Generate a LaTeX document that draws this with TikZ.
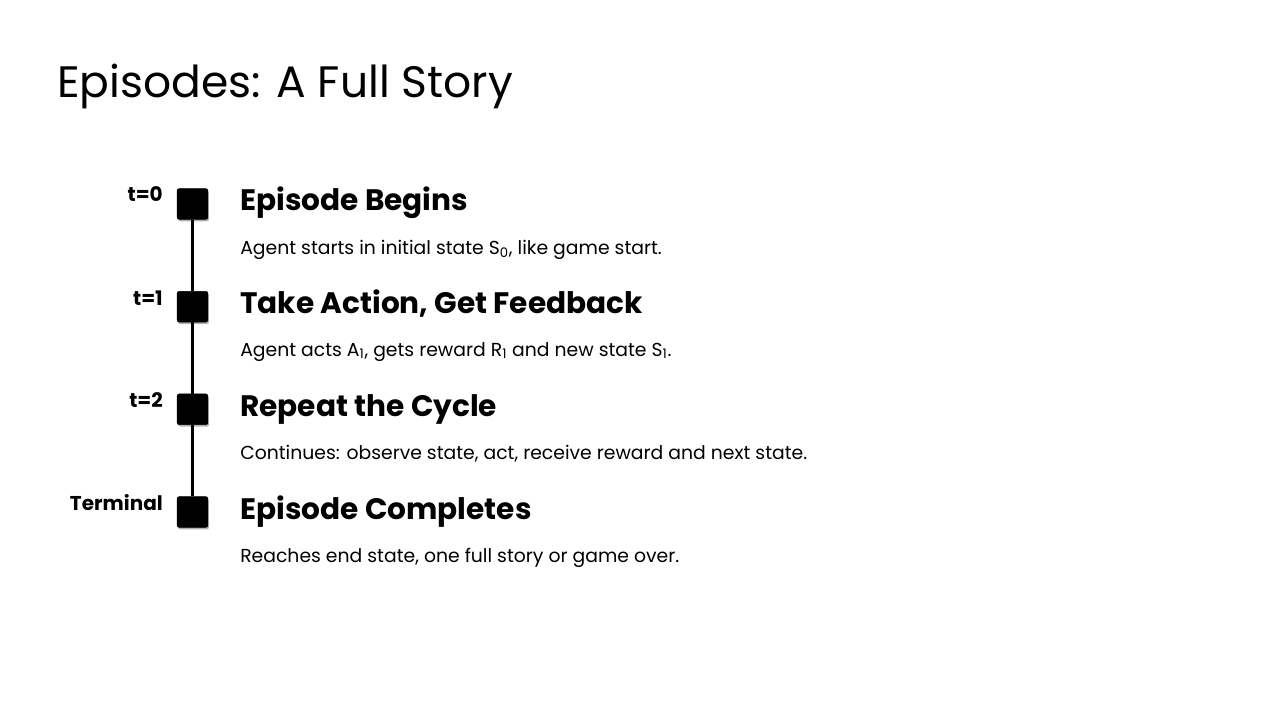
\documentclass[tikz,border=0pt]{standalone}
\usepackage{fontspec}
\setmainfont{Poppins}
\usetikzlibrary{shadows}

\begin{document}
\begin{tikzpicture}[x=0.75pt,y=-0.75pt,
  stepmark/.style={draw=black,fill=black,minimum size=23pt,inner sep=0pt,rounded corners=1.5pt,
    drop shadow={shadow xshift=0.8pt,shadow yshift=-1.5pt,opacity=0.3,fill=black}},
  steplabel/.style={anchor=base east,inner sep=0pt,font=\fontsize{15}{18}\selectfont\bfseries},
  stephead/.style={anchor=base west,inner sep=0pt,font=\fontsize{22.2}{26}\selectfont\bfseries},
  stepdesc/.style={anchor=base west,inner sep=0pt,font=\fontsize{14.1}{17}\selectfont},
  spine/.style={line width=2pt,black}]
  \useasboundingbox (0,0) rectangle (1280,720);
  \node[anchor=base west,inner sep=0pt,font=\fontsize{33}{40}\selectfont] (title) at (57,98) {Episodes: A Full Story};
  % timeline
  \node[stepmark] (m0) at (192.5,204) {};
  \node[stepmark] (m1) at (192.5,306.7) {};
  \node[stepmark] (m2) at (192.5,409.3) {};
  \node[stepmark] (m3) at (192.5,512) {};
  \draw[spine] (m0) -- (m1);
  \draw[spine] (m1) -- (m2);
  \draw[spine] (m2) -- (m3);
  \node[steplabel] (l0) at (163,202) {t=0};
  \node[steplabel] (l1) at (163,305) {t=1};
  \node[steplabel] (l2) at (163,407) {t=2};
  \node[steplabel] (l3) at (163,510) {Terminal};
  % steps
  \node[stephead] (h0) at (240,211) {Episode Begins};
  \node[stepdesc] (d0) at (240,254) {Agent starts in initial state S\textsubscript{0}, like game start.};
  \node[stephead] (h1) at (240,313) {Take Action, Get Feedback};
  \node[stepdesc] (d1) at (240,356) {Agent acts A\textsubscript{1}, gets reward R\textsubscript{1} and new state S\textsubscript{1}.};
  \node[stephead] (h2) at (240,416) {Repeat the Cycle};
  \node[stepdesc] (d2) at (240,459) {Continues: observe state, act, receive reward and next state.};
  \node[stephead] (h3) at (240,519) {Episode Completes};
  \node[stepdesc] (d3) at (240,562) {Reaches end state, one full story or game over.};
\end{tikzpicture}
\end{document}
